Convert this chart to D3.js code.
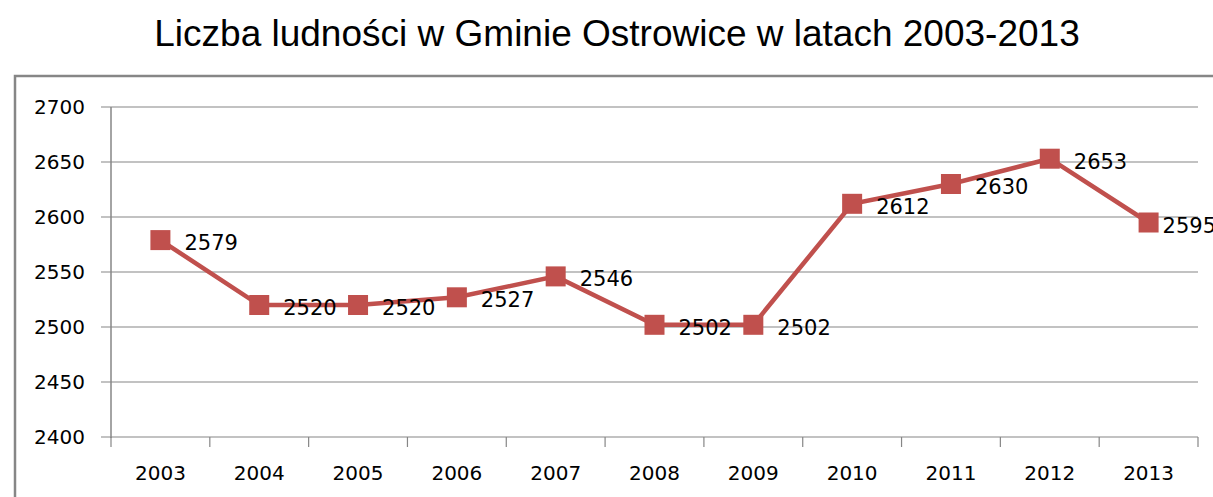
<!DOCTYPE html>
<html lang="pl">
<head>
    <meta charset="UTF-8"/>
    <title>Liczba ludności w Gminie Ostrowice</title>
    <script src="https://cdnjs.cloudflare.com/ajax/libs/d3/7.8.5/d3.min.js"></script>
    <style>
        body { margin: 0; background: #fff; }
        svg { display: block; }
        .tick-label { font-family: "DejaVu Sans", sans-serif; font-size: 20px; fill: #000; }
        .data-label { font-family: "DejaVu Sans", sans-serif; font-size: 21px; fill: #000; }
        .title { font-family: "Liberation Sans", Arial, sans-serif; font-size: 37px; fill: #000; }
    </style>
</head>
<body>
<div id="chart"></div>
<script>
    const years = ["2003", "2004", "2005", "2006", "2007", "2008", "2009", "2010", "2011", "2012", "2013"];
    const population = [2579, 2520, 2520, 2527, 2546, 2502, 2502, 2612, 2630, 2653, 2595];
    const yTicks = [2400, 2450, 2500, 2550, 2600, 2650, 2700];

    const width = 1213;
    const height = 497;
    const plot = {left: 111, right: 1198, top: 107, bottom: 437};
    const gray = "#868686";
    const red = "#C0504D";

    const svg = d3.select("#chart")
        .append("svg")
        .attr("width", width)
        .attr("height", height);

    // Title
    svg.append("text")
        .attr("class", "title")
        .attr("x", 617)
        .attr("y", 46)
        .attr("text-anchor", "middle")
        .text("Liczba ludności w Gminie Ostrowice w latach 2003-2013");

    // Chart frame (runs past the window edges)
    svg.append("rect")
        .attr("x", 15)
        .attr("y", 76)
        .attr("width", 1300)
        .attr("height", 500)
        .attr("fill", "none")
        .attr("stroke", gray)
        .attr("stroke-width", 2.5);

    // Scales
    const xBand = d3.scaleBand()
        .domain(years)
        .range([plot.left, plot.right]);

    const yScale = d3.scaleLinear()
        .domain([2400, 2700])
        .range([plot.bottom, plot.top]);

    // Horizontal grid lines + y ticks
    const grid = svg.append("g");
    yTicks.forEach(v => {
        grid.append("line")
            .attr("x1", plot.left - 10)
            .attr("x2", plot.right)
            .attr("y1", yScale(v))
            .attr("y2", yScale(v))
            .attr("stroke", gray)
            .attr("stroke-width", 1.2);

        svg.append("text")
            .attr("class", "tick-label")
            .attr("x", 85)
            .attr("y", yScale(v) + 7)
            .attr("text-anchor", "end")
            .text(v);
    });

    // Y axis
    svg.append("line")
        .attr("x1", plot.left)
        .attr("x2", plot.left)
        .attr("y1", plot.top)
        .attr("y2", plot.bottom + 1)
        .attr("stroke", gray)
        .attr("stroke-width", 1.5);

    // X axis ticks at band edges
    years.concat(["end"]).forEach((y, i) => {
        const x = i < years.length ? xBand(y) : plot.right;
        svg.append("line")
            .attr("x1", x)
            .attr("x2", x)
            .attr("y1", plot.bottom)
            .attr("y2", plot.bottom + 10)
            .attr("stroke", gray)
            .attr("stroke-width", 1.2);
    });

    // X labels
    years.forEach(y => {
        svg.append("text")
            .attr("class", "tick-label")
            .attr("x", xBand(y) + xBand.bandwidth() / 2)
            .attr("y", 480)
            .attr("text-anchor", "middle")
            .text(y);
    });

    const cx = (d, i) => xBand(years[i]) + xBand.bandwidth() / 2;

    // Line
    const line = d3.line()
        .x((d, i) => cx(d, i))
        .y(d => yScale(d));

    svg.append("path")
        .datum(population)
        .attr("d", line)
        .attr("fill", "none")
        .attr("stroke", red)
        .attr("stroke-width", 4.5);

    // Square markers
    const size = 20;
    svg.selectAll(".marker")
        .data(population)
        .enter()
        .append("rect")
        .attr("class", "marker")
        .attr("x", (d, i) => cx(d, i) - size / 2)
        .attr("y", d => yScale(d) - size / 2)
        .attr("width", size)
        .attr("height", size)
        .attr("fill", red);

    // Data labels; the last one is pushed in towards its marker so it fits
    const last = population.length - 1;
    svg.selectAll(".data-label")
        .data(population)
        .enter()
        .append("text")
        .attr("class", "data-label")
        .attr("x", (d, i) => cx(d, i) + (i === last ? 14 : 24))
        .attr("y", d => yScale(d) + 10)
        .text(d => d);
</script>
</body>
</html>
